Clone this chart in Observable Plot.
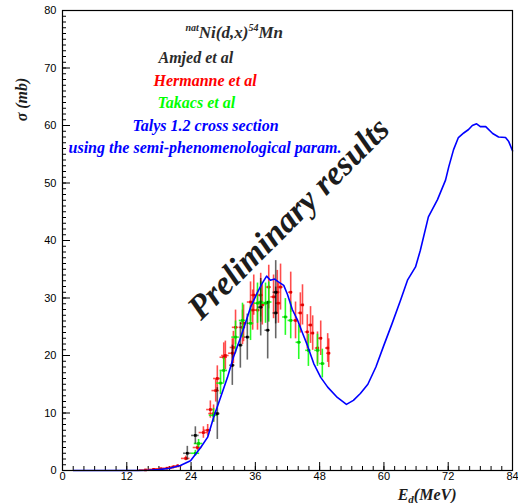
<!DOCTYPE html>
<html>
<head>
<meta charset="utf-8">
<script src="https://cdn.jsdelivr.net/npm/d3@7"></script>
<script src="https://cdn.jsdelivr.net/npm/@observablehq/plot@0.6"></script>
<style>
  html, body { margin: 0; padding: 0; background: white; overflow: hidden; }
</style>
</head>
<body>
<div id="chart"></div>
<script>
// ---- Tick labels ----
const xMajor = [0, 12, 24, 36, 48, 60, 72, 84];
const yMajor = [0, 10, 20, 30, 40, 50, 60, 70, 80];
const xMinor = d3.range(0, 85, 2);
const yMinor = d3.range(0, 81, 1);

// ---- Talys 1.2 calculation (blue curve) ----
const talysE = [2, 6, 10, 14, 16, 18, 20, 22.0, 23.9, 25.8, 27.1, 28.2, 29.5, 30.8, 31.9, 33.2, 34.2,
  35.1, 36.4, 37.3, 38.1, 38.8, 39.6, 40.3, 41.3, 42.0, 42.9, 43.9, 44.8, 45.7, 46.9, 48.2, 49.5,
  51.3, 53.0, 54.3, 55.6, 57.0, 58.5, 60.0, 61.5, 63.1, 64.4, 65.9, 66.8, 68.3, 70.0, 71.5, 72.1,
  73.0, 73.9, 74.9, 75.8, 76.5, 77.3, 78.0, 79.0, 80.3, 81.4, 82.7, 83.3, 84.0];
const talysSig = [0, 0, 0, 0, 0.05, 0.15, 0.4, 0.87, 1.7, 4.0, 5.8, 9.2, 12.7, 16.2, 19.7, 23.0, 25.8,
  28.4, 31.0, 32.6, 33.8, 33.1, 33.3, 32.8, 32.2, 30.6, 28.0, 26.1, 23.9, 21.8, 18.6, 16.2, 14.5,
  12.7, 11.5, 12.2, 13.4, 15.0, 18.0, 21.8, 25.5, 29.6, 33.1, 35.4, 38.3, 44.1, 47.1, 50.5, 52.8,
  55.8, 57.9, 58.7, 59.3, 60.0, 60.3, 59.8, 59.8, 58.6, 58.0, 57.9, 57.2, 55.6];

// ---- Hermanne et al (red) ----
const hermE = [15.5, 17.0, 18.3, 19.5, 20.6, 21.5, 23.0, 25.2, 26.3, 27.1, 27.6, 28.2, 28.6, 28.9,
  30.1, 30.4, 31.7, 31.9, 32.3, 33.6, 33.8, 35.1, 35.5, 35.7, 36.4, 37.0, 37.3, 38.5, 39.4, 40.1,
  40.3, 40.7, 42.6, 43.5, 44.4, 44.8, 45.7, 46.3, 46.7, 47.6, 48.2, 49.5, 49.7];
const hermSig = [0.1, 0.2, 0.3, 0.4, 0.6, 0.8, 2.1, 4.0, 6.6, 7.0, 10.6, 9.9, 13.9, 16.0,
  19.7, 20.0, 20.4, 21.4, 24.9, 24.9, 25.6, 29.3, 27.9, 30.5, 27.9, 30.5, 28.8, 31.9, 30.2, 31.0,
  29.1, 31.9, 31.0, 26.1, 27.4, 28.8, 24.1, 25.3, 23.9, 21.3, 23.0, 21.3, 20.4];
const hermSigErr = [0.05, 0.05, 0.1, 0.1, 0.15, 0.2, 0.4, 0.6, 1.0, 1.0, 1.5, 1.5, 2.0, 2.2,
  2.5, 2.5, 2.5, 2.8, 3.0, 3.0, 3.2, 3.5, 3.5, 3.5, 3.5, 3.8, 3.5, 3.8, 3.8, 3.8,
  3.5, 4.0, 3.5, 3.2, 3.5, 3.5, 3.0, 3.2, 3.0, 2.8, 3.0, 2.5, 2.5];
const hermEErr = [1.2, 1.0, 1.0, 1.0, 0.8, 0.8, 0.8, 0.8, 0.8, 0.7, 0.7, 0.9, 0.7, 0.7,
  0.7, 0.7, 0.7, 0.6, 0.6, 0.6, 0.6, 0.6, 0.6, 0.5, 0.5, 0.5, 0.5, 0.5, 0.5, 0.5,
  0.5, 0.5, 0.4, 0.4, 0.4, 0.4, 0.4, 0.4, 0.4, 0.4, 0.4, 0.4, 0.4];

// ---- Takacs et al (green) ----
const takE = [24.8, 25.4, 28.2, 29.5, 30.1, 32.3, 33.6, 35.1, 36.4, 37.0, 37.9, 38.5, 41.6, 42.6, 44.1, 45.9, 47.6, 48.5];
const takSig = [3.0, 4.7, 9.6, 15.2, 17.4, 23.2, 26.1, 25.6, 29.1, 29.3, 29.1, 29.3, 26.7, 26.1, 22.3, 20.9, 20.9, 18.6];
const takSigErr = [0.5, 0.7, 1.2, 2.0, 2.2, 2.8, 3.0, 3.0, 3.5, 3.5, 3.5, 3.5, 3.2, 3.2, 3.0, 2.8, 2.8, 2.5];
const takEErr = [0.8, 0.8, 0.8, 0.7, 0.7, 0.7, 0.6, 0.6, 0.6, 0.6, 0.6, 0.6, 0.5, 0.5, 0.5, 0.5, 0.5, 0.5];

// ---- Amjed et al (black) ----
const amjE = [23.3, 24.8, 28.9, 31.7, 33.2, 34.5, 37.0, 38.3, 39.8, 39.8];
const amjSig = [3.0, 6.1, 9.9, 18.3, 21.8, 23.2, 28.4, 24.4, 31.0, 27.4];
const amjSigErr = [1.2, 1.5, 4.5, 3.5, 4.0, 4.0, 5.0, 5.0, 5.5, 4.5];
const amjEErr = [0.7, 0.7, 0.5, 0.5, 0.5, 0.5, 0.5, 0.5, 0.5, 0.5];

// ---- Texts ----
const titleText = "natNi(d,x)54Mn";
const legendTexts = ["Amjed et al", "Hermanne et al", "Takacs et al", "Talys 1.2 cross section", "using the semi-phenomenological param."];
const watermark = "Preliminary results";
const yTitle = "σ (mb)";
const xTitle = "Ed(MeV)";

const toRows = (E, S, dS, dE) => E.map((e, i) => ({x: e, y: S[i], ey: dS[i], ex: dE[i]}));
const herm = toRows(hermE, hermSig, hermSigErr, hermEErr);
const tak = toRows(takE, takSig, takSigErr, takEErr);
const amj = toRows(amjE, amjSig, amjSigErr, amjEErr);
const talys = talysE.map((e, i) => ({x: e, y: talysSig[i]}));

const W = 518, H = 503, mL = 62, mR = 6, mT = 10, mB = 33;
const fW = W - mL - mR, fH = H - mT - mB;
const serif = "'Liberation Serif', 'DejaVu Serif', serif";

function errMarks(rows, color, barColor, opacity) {
  return [
    Plot.ruleX(rows, {x: "x", y1: d => d.y - d.ey, y2: d => d.y + d.ey, stroke: barColor, strokeWidth: 1.6, strokeOpacity: opacity}),
    Plot.ruleY(rows, {y: "y", x1: d => d.x - d.ex, x2: d => d.x + d.ex, stroke: barColor, strokeWidth: 1.6, strokeOpacity: opacity}),
    Plot.dot(rows, {x: "x", y: "y", symbol: "square", r: 1.5, fill: color, stroke: null})
  ];
}

const legendStyle = [
  {left: 158, base: 62, color: "#2b2b2b"},
  {left: 153, base: 85, color: "#ff0000"},
  {left: 157, base: 107, color: "#00ff00"},
  {left: 132, base: 130, color: "#0000ff"},
  {left: 68, base: 152, color: "#0000ff"}
];

const chart = Plot.plot({
  width: W, height: H,
  marginLeft: mL, marginRight: mR, marginTop: mT, marginBottom: mB,
  x: {domain: [0, 84]},
  y: {domain: [0, 80]},
  style: {fontFamily: "'Liberation Sans', Arial, sans-serif", fontSize: "11px", background: "white", color: "black"},
  marks: [
    // tick marks (inside the frame)
    Plot.tickX(xMinor, {x: d => d, insetTop: fH - 4, stroke: "black"}),
    Plot.tickX(xMajor, {x: d => d, insetTop: fH - 8, stroke: "black"}),
    Plot.tickY(yMinor, {y: d => d, insetRight: fW - 4, stroke: "black"}),
    Plot.tickY(yMajor, {y: d => d, insetRight: fW - 8, stroke: "black"}),
    Plot.axisX({ticks: xMajor, tickSize: 0, tickPadding: 2, label: null, fontSize: 11}),
    Plot.axisY({ticks: yMajor, tickSize: 0, tickPadding: 6, label: null, fontSize: 11}),
    // data
    ...errMarks(herm, "#e00000", "#ff0000", 0.7),
    ...errMarks(tak, "#00cc00", "#00ff00", 0.85),
    ...errMarks(amj, "#000000", "#000000", 0.6),
    Plot.line(talys, {x: "x", y: "y", stroke: "#0000ff", strokeWidth: 1.6}),
    Plot.frame({stroke: "black", strokeWidth: 1.2}),
    // texts
    Plot.text([titleText], {text: d => d, frameAnchor: "top-left", dx: 185 - mL, dy: 37 - mT, textAnchor: "start", lineAnchor: "bottom",
      fontFamily: serif, fontWeight: "bold", fontStyle: "italic", fontSize: 17, fill: "#2b2b2b"}),
    ...legendTexts.map((t, i) => Plot.text([t], {text: d => d, frameAnchor: "top-left",
      dx: legendStyle[i].left - mL, dy: legendStyle[i].base - mT, textAnchor: "start", lineAnchor: "bottom",
      fontFamily: serif, fontWeight: "bold", fontStyle: "italic", fontSize: 16, fill: legendStyle[i].color})),
    Plot.text([watermark], {text: d => d, frameAnchor: "top-left", dx: 288 - mL, dy: 218 - mT, rotate: -45,
      textAnchor: "middle", lineAnchor: "middle", fontFamily: serif, fontWeight: "bold", fontStyle: "italic", fontSize: 34, fill: "#1c1c1c"}),
    Plot.text([yTitle], {text: d => d, frameAnchor: "top-left", dx: 21 - mL, dy: 99 - mT, rotate: -90,
      textAnchor: "middle", lineAnchor: "middle", fontFamily: serif, fontWeight: "bold", fontStyle: "italic", fontSize: 16, fill: "#1c1c1c"}),
    Plot.text([xTitle], {text: d => d, frameAnchor: "bottom-right", dx: 456 - (W - mR), dy: 499 - (H - mB), textAnchor: "end", lineAnchor: "bottom",
      fontFamily: serif, fontWeight: "bold", fontStyle: "italic", fontSize: 16, fill: "#1c1c1c"})
  ]
});

// rich text: superscripts / subscripts
d3.select(chart).selectAll("text").each(function () {
  const t = d3.select(this);
  const s = this.textContent;
  if (s === titleText) {
    t.text(null);
    t.append("tspan").attr("font-size", 10).attr("dy", -7).text("nat");
    t.append("tspan").attr("dy", 7).text("Ni(d,x)");
    t.append("tspan").attr("font-size", 10).attr("dy", -7).text("54");
    t.append("tspan").attr("dy", 7).text("Mn");
  } else if (s === xTitle) {
    t.text(null);
    t.append("tspan").text("E");
    t.append("tspan").attr("font-size", 11).attr("dy", 3).text("d");
    t.append("tspan").attr("dy", -3).text("(MeV)");
  }
});

document.getElementById("chart").appendChild(chart);
</script>
</body>
</html>
